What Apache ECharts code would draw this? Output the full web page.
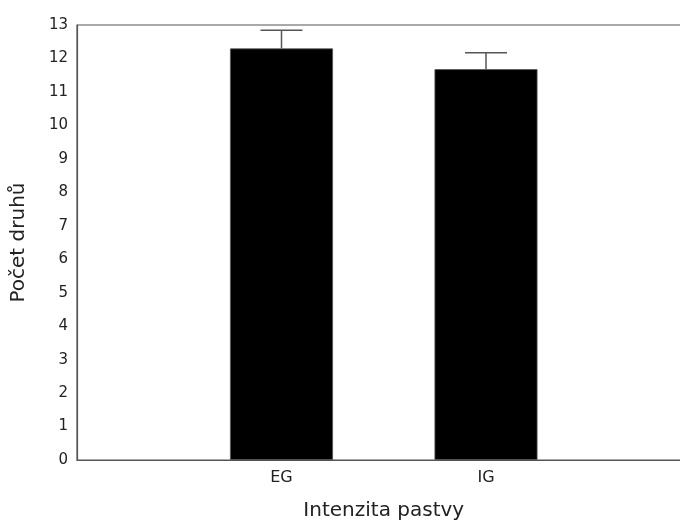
<!DOCTYPE html>
<html><head><meta charset="utf-8">
<script src="https://cdn.jsdelivr.net/npm/echarts@6/dist/echarts.min.js"></script>
<style>html,body{margin:0;padding:0;background:#fff}#c{width:680px;height:523px}</style>
</head><body><div id="c"></div>
<script>
var categories = ['', 'EG', 'IG', ''];
var means = ['-', 12.3, 11.68, '-'];
var errors = [0, 0.54, 0.49, 0];
var yTicks = [0,1,2,3,4,5,6,7,8,9,10,11,12,13];

var errData = [];
for (var i = 0; i < categories.length; i++) {
  if (means[i] !== '-') errData.push([i, means[i], means[i] + errors[i]]);
}
var FONT = 'DejaVu Sans';
var chart = echarts.init(document.getElementById('c'));
chart.setOption({
  animation: false,
  backgroundColor: '#fff',
  grid: {left: 77, width: 613.5, top: 25, height: 435, outerBoundsMode: 'none', containLabel: false,
    show: true, borderColor: '#555', borderWidth: 1.2, backgroundColor: 'transparent'},
  xAxis: {
    type: 'category', data: categories, boundaryGap: false,
    axisLine: {show: true, lineStyle: {color: '#555', width: 1.2}},
    axisTick: {show: false}, splitLine: {show: false},
    axisLabel: {color: '#222', fontFamily: FONT, fontSize: 16, margin: 10},
    name: 'Intenzita pastvy', nameLocation: 'middle', nameGap: 41,
    nameTextStyle: {color: '#222', fontFamily: FONT, fontSize: 20}
  },
  yAxis: {
    type: 'value', min: 0, max: 13, interval: 1,
    axisLine: {show: true, lineStyle: {color: '#555', width: 1.2}},
    axisTick: {show: false}, splitLine: {show: false},
    axisLabel: {color: '#222', fontFamily: FONT, fontSize: 15, margin: 9,
      formatter: function (v) { return yTicks.indexOf(v) >= 0 ? String(v) : ''; }},
    name: 'Počet druhů', nameLocation: 'middle', nameGap: 48, nameRotate: 90,
    nameTextStyle: {color: '#222', fontFamily: FONT, fontSize: 20}
  },
  series: [
    {type: 'bar', data: means, barWidth: 103, itemStyle: {color: '#000', borderColor: '#555', borderWidth: 0.8}},
    {type: 'custom', data: errData, z: 10,
      renderItem: function (params, api) {
        var x = api.value(0);
        var base = api.coord([x, api.value(1)]);
        var top = api.coord([x, api.value(2)]);
        var hw = 21;
        return {type: 'group', children: [
          {type: 'line', shape: {x1: base[0], y1: base[1], x2: top[0], y2: top[1]}, style: {stroke: '#555', lineWidth: 1.5}},
          {type: 'line', shape: {x1: top[0] - hw, y1: top[1], x2: top[0] + hw, y2: top[1]}, style: {stroke: '#555', lineWidth: 1.5}}
        ]};
      }
    }
  ]
});
</script></body></html>
